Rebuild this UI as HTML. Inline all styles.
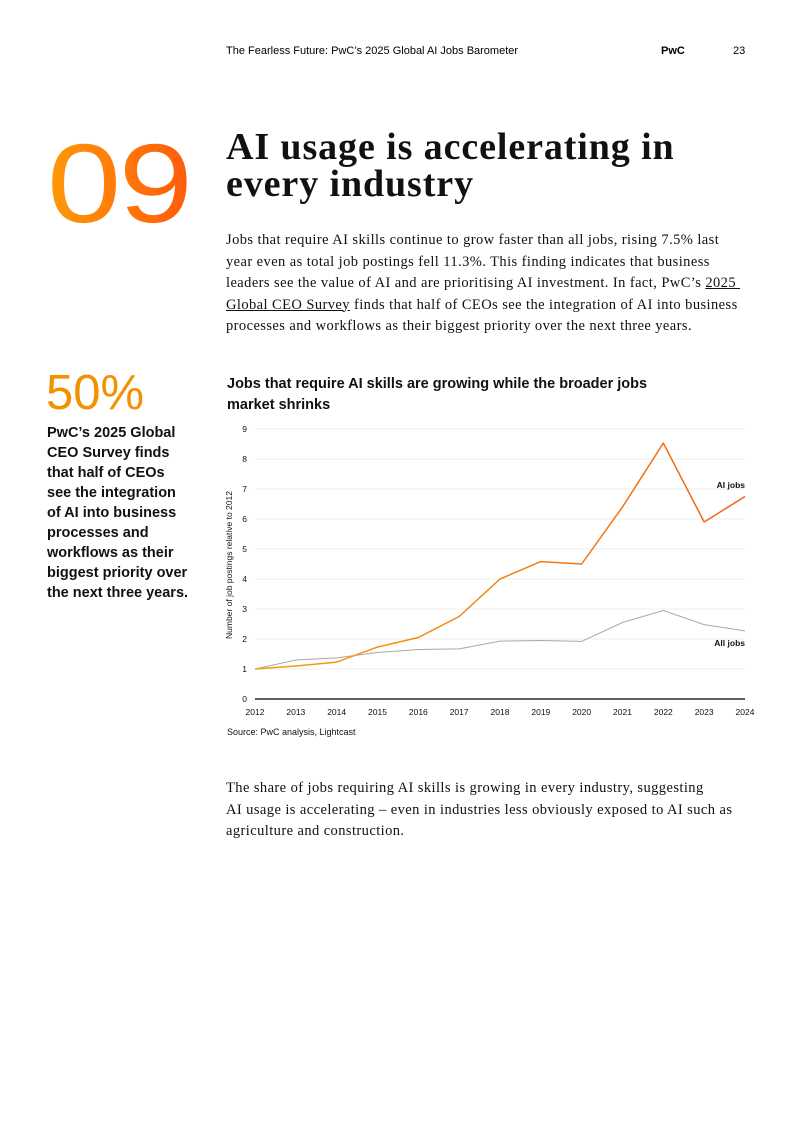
<!DOCTYPE html>
<html><head><meta charset="utf-8"><style>
body{margin:0;width:793px;height:1121px;background:#fff;position:relative;font-family:"Liberation Sans",sans-serif;overflow:hidden}
.a{position:absolute}
.serif{font-family:"Liberation Serif",serif}
.nw{white-space:nowrap}
</style></head><body>
<div class="a" style="left:226px;top:45px;font-size:11px;color:#000">The Fearless Future: PwC’s 2025 Global AI Jobs Barometer</div>
<div class="a" style="left:661px;top:45px;font-size:11px;font-weight:bold">PwC</div>
<div class="a" style="left:733px;top:45px;font-size:11px">23</div>
<div class="a" style="left:47px;top:124px;font-size:112px;line-height:120px;letter-spacing:-2px;transform:scaleX(1.19);transform-origin:left top;background:linear-gradient(90deg,#ff9a0a,#ff5a0a);-webkit-background-clip:text;color:transparent">09</div>
<div class="a serif nw" style="left:226px;top:129px;font-size:38px;line-height:37px;letter-spacing:0.9px;font-weight:bold;color:#111">AI usage is accelerating in<br>every industry</div>
<div class="a serif nw" style="left:226px;top:230px;font-size:14.5px;line-height:21.5px;letter-spacing:0.42px;color:#111">Jobs that require AI skills continue to grow faster than all jobs, rising 7.5% last<br>year even as total job postings fell 11.3%. This finding indicates that business<br>leaders see the value of AI and are prioritising AI investment. In fact, PwC’s <u>2025&nbsp;</u><br><u>Global CEO Survey</u> finds that half of CEOs see the integration of AI into business<br>processes and workflows as their biggest priority over the next three years.</div>
<div class="a" style="left:46px;top:367px;font-size:49px;line-height:52px;color:#f39200">50%</div>
<div class="a nw" style="left:47px;top:423px;font-size:14.5px;line-height:20px;font-weight:bold;color:#111">PwC’s 2025 Global<br>CEO Survey finds<br>that half of CEOs<br>see the integration<br>of AI into business<br>processes and<br>workflows as their<br>biggest priority over<br>the next three years.</div>
<div class="a" style="left:227px;top:374px;font-size:14.5px;line-height:21px;font-weight:bold;color:#111">Jobs that require AI skills are growing while the broader jobs<br>market shrinks</div>
<svg class="a" style="left:0;top:0" width="793" height="1121" id="chart">
<defs><linearGradient id="g" x1="0" x2="1"><stop offset="0" stop-color="#f5a00f"/><stop offset="1" stop-color="#f06414"/></linearGradient></defs>
</svg>
<div class="a" style="left:227px;top:727px;font-size:9px;color:#111">Source: PwC analysis, Lightcast</div>
<div class="a serif nw" style="left:226px;top:778px;font-size:14.5px;line-height:21.5px;letter-spacing:0.42px;color:#111">The share of jobs requiring AI skills is growing in every industry, suggesting<br>AI usage is accelerating – even in industries less obviously exposed to AI such as<br>agriculture and construction.</div>
<script>
const years=[2012,2013,2014,2015,2016,2017,2018,2019,2020,2021,2022,2023,2024];
const aiJobs=[1,1.1,1.23,1.73,2.05,2.75,4.0,4.58,4.5,6.4,8.53,5.9,6.75];
const allJobs=[1,1.3,1.37,1.55,1.65,1.67,1.93,1.95,1.92,2.55,2.95,2.48,2.27];
const yTicks=[0,1,2,3,4,5,6,7,8,9];
const svg=document.getElementById('chart');const NS='http://www.w3.org/2000/svg';
const X=i=>255+i*(490/(years.length-1));const Y=v=>699-v*30;
function mk(t,a){const e=document.createElementNS(NS,t);for(const k in a)e.setAttribute(k,a[k]);svg.appendChild(e);return e;}
yTicks.forEach(v=>{
 if(v>0){const l=mk('line',{x1:255,x2:745,y1:Y(v),y2:Y(v),stroke:'#ececec','stroke-width':1});
 
 }
 const t=mk('text',{x:247,y:Y(v)+3,'font-size':8.5,'text-anchor':'end',fill:'#111'});t.textContent=v;
 
 
});
const ax=mk('line',{x1:255,x2:745,y1:699,y2:699,stroke:'#000','stroke-width':1.3});


years.forEach((y,i)=>{const t=mk('text',{x:X(i),y:715,'font-size':8.5,'text-anchor':'middle',fill:'#111'});t.textContent=y;
 
 });
const yt=mk('text',{x:0,y:0,'font-size':8.5,'text-anchor':'middle',fill:'#111',transform:'translate(232,565) rotate(-90)'});yt.textContent='Number of job postings relative to 2012';


const p1=mk('polyline',{points:allJobs.map((v,i)=>X(i)+','+Y(v)).join(' '),fill:'none',stroke:'#a8a8a8','stroke-width':1});


const p2=mk('polyline',{points:aiJobs.map((v,i)=>X(i)+','+Y(v)).join(' '),fill:'none',stroke:'url(#g)','stroke-width':1.5,'stroke-linejoin':'round'});


const l1=mk('text',{x:745,y:488,'font-size':8.5,'font-weight':'bold','text-anchor':'end',fill:'#111'});l1.textContent='AI jobs';


const l2=mk('text',{x:745,y:646,'font-size':8.5,'font-weight':'bold','text-anchor':'end',fill:'#111'});l2.textContent='All jobs';


</script>
</body></html>
